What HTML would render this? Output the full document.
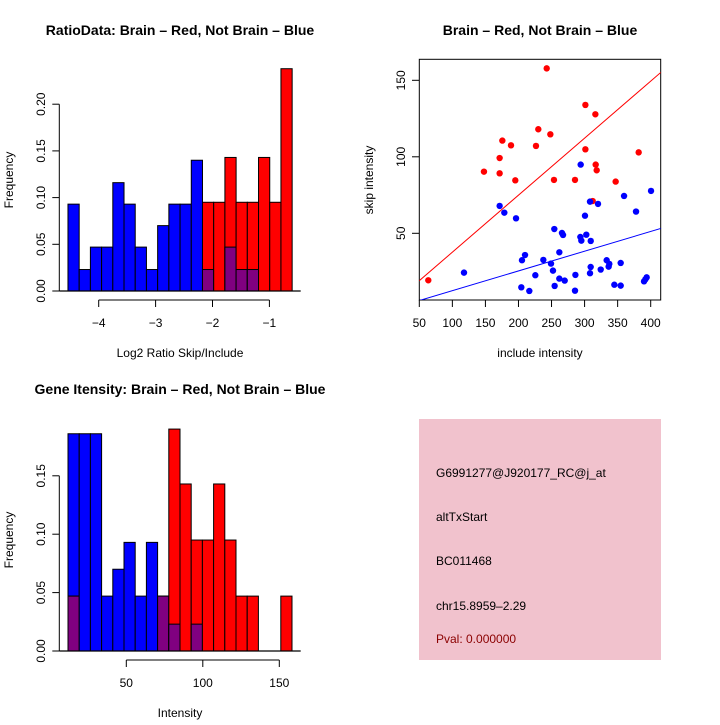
<!DOCTYPE html>
<html><head><meta charset="utf-8"><style>
body{margin:0;background:#fff}
svg text{font-family:"Liberation Sans",sans-serif}
</style></head><body>
<svg id="c" width="720" height="720" xmlns="http://www.w3.org/2000/svg">
<text x="180" y="35" font-size="14" font-weight="bold" text-anchor="middle">RatioData: Brain – Red, Not Brain – Blue</text>
<text x="540" y="35" font-size="14" font-weight="bold" text-anchor="middle">Brain – Red, Not Brain – Blue</text>
<text x="180" y="394" font-size="14" font-weight="bold" text-anchor="middle">Gene Itensity: Brain – Red, Not Brain – Blue</text>
<text x="180" y="357" font-size="12" text-anchor="middle">Log2 Ratio Skip/Include</text>
<text transform="translate(13,180) rotate(-90)" font-size="12" text-anchor="middle">Frequency</text>
<text x="540" y="357" font-size="12" text-anchor="middle">include intensity</text>
<text transform="translate(373,180) rotate(-90)" font-size="12" text-anchor="middle">skip intensity</text>
<text x="180" y="717" font-size="12" text-anchor="middle">Intensity</text>
<text transform="translate(13,540) rotate(-90)" font-size="12" text-anchor="middle">Frequency</text>
<g>
<rect x="419" y="419" width="242" height="241" fill="#f1c2cd"/>
<text x="436" y="477" font-size="12">G6991277@J920177_RC@j_at</text>
<text x="436" y="521" font-size="12">altTxStart</text>
<text x="436" y="565" font-size="12">BC011468</text>
<text x="436" y="610" font-size="12">chr15.8959–2.29</text>
<text x="436" y="643" font-size="12" fill="#8b0000">Pval: 0.000000</text>
</g>
</svg>
<script>
const ratioBlue=[0.093,0.023,0.047,0.047,0.116,0.093,0.047,0.023,0.070,0.093,0.093,0.140,0.023,0,0.047,0.023,0.023,0,0,0];
const ratioRed=[0,0,0,0,0,0,0,0,0,0,0,0,0.095,0.095,0.143,0.095,0.095,0.143,0.095,0.238];
const ratioTicksX=[-4,-3,-2,-1];
const ratioTicksY=[0,0.05,0.10,0.15,0.20];
const ratioTickLabelsY=["0.00","0.05","0.10","0.15","0.20"];
const intBlue=[0.186,0.186,0.186,0.047,0.070,0.093,0.047,0.093,0.047,0.023,0,0.023,0,0,0,0,0,0,0,0];
const intRed=[0.047,0,0,0,0,0,0,0,0.047,0.190,0.143,0.095,0.095,0.143,0.095,0.047,0.047,0,0,0.047];
const intTicksX=[50,100,150];
const intTicksY=[0,0.05,0.10,0.15];
const intTickLabelsY=["0.00","0.05","0.10","0.15"];
const redX=[63.6,242.7,301.2,316.3,230,248.2,175.6,188.7,226.5,301.2,381.8,171.5,147.8,171.5,316.8,318.3,195.2,253.7,285.5,347,312.2];
const redY=[19.3,157.8,133.9,127.8,118,114.7,110.6,107.5,107.1,104.9,102.9,99.2,90.3,89.2,94.9,91.2,84.6,84.9,84.9,83.8,71.1];
const blueX=[117.6,171.5,178.6,196.3,294.1,300.6,308.2,320.3,359.7,377.8,400.5,254.2,265.8,267.4,293.6,295.1,302.6,309.3,261.8,209.9,205.3,237.6,249.2,333.4,337.4,336.4,354.6,309.2,252.2,308.2,324.4,225.5,286.1,261.8,269.9,204.3,216.4,254.7,285.5,345,354.6,389.9,391.9,393.9];
const blueY=[24.3,67.9,63.5,59.8,94.9,61.5,70.7,69.2,74.4,64.2,77.7,52.8,50.2,48.9,47.6,45.2,49.1,45.0,37.6,35.8,32.4,32.6,30.2,32.4,30.0,28.2,30.6,28.0,25.6,23.9,26.3,22.6,22.8,20.4,19.1,14.7,12.3,15.6,12.5,16.4,15.8,18.6,19.9,21.2];
const scatterTicksX=[50,100,150,200,250,300,350,400];
const scatterTicksY=[50,100,150];
const redFit=[0.4,0.3726];
const blueFit=[-0.4,0.129];

const svg=document.getElementById('c');
const NS='http://www.w3.org/2000/svg';
function mk(tag,attrs,parent){const e=document.createElementNS(NS,tag);for(const k in attrs)e.setAttribute(k,attrs[k]);(parent||svg).appendChild(e);return e;}

function hist(blue,red,x0,bw,sy,yLeft,yTicks,yLabels,xTicks,sx,axisY,prefix){
  const g=mk('g',{});
  
  
  for(let i=0;i<blue.length;i++){
    const x=x0+i*bw;const b=blue[i],r=red[i],m=Math.min(b,r);
    if(b>0){const e=mk('rect',{x:x,y:sy(b),width:bw,height:sy(0)-sy(b),fill:'#0000ff',stroke:'#000','stroke-width':1},g);
      
      }
    if(r>0){const e=mk('rect',{x:x,y:sy(r),width:bw,height:sy(0)-sy(r),fill:'#ff0000',stroke:'#000','stroke-width':1},g);
      
      }
    if(m>0){const e=mk('rect',{x:x,y:sy(m),width:bw,height:sy(0)-sy(m),fill:'#800080',stroke:'#000','stroke-width':1},g);
      
      }
  }
  mk('line',{x1:59.3,x2:300.7,y1:sy(0),y2:sy(0),stroke:'#000','stroke-width':1.3},g);
  mk('line',{x1:yLeft,x2:yLeft,y1:sy(yTicks[0]),y2:sy(yTicks[yTicks.length-1]),stroke:'#000'},g);
  yTicks.forEach((t,i)=>{mk('line',{x1:yLeft-7,x2:yLeft,y1:sy(t),y2:sy(t),stroke:'#000'},g);
    const tx=mk('text',{transform:`translate(45,${sy(t)}) rotate(-90)`,'font-size':12,'text-anchor':'middle'},g);tx.textContent=yLabels[i];});
  mk('line',{x1:sx(xTicks[0]),x2:sx(xTicks[xTicks.length-1]),y1:axisY,y2:axisY,stroke:'#000'},g);
  xTicks.forEach(t=>{mk('line',{x1:sx(t),x2:sx(t),y1:axisY,y2:axisY+7,stroke:'#000'},g);
    const tx=mk('text',{x:sx(t),y:axisY+27,'font-size':12,'text-anchor':'middle'},g);tx.textContent=String(t).replace('-','\u2212');});
}
// ratio histogram
const rsx=v=>98.7+(v+4)*56.9;
const rsy=v=>291-v/0.05*46.7;
hist(ratioBlue,ratioRed,rsx(-4.54),(rsx(-0.6)-rsx(-4.54))/20,rsy,59.3,ratioTicksY,ratioTickLabelsY,ratioTicksX,rsx,300,'ratio');
// intensity histogram
const isx=v=>126.3+(v-50)*1.53;
const isy=v=>651-v/0.05*58.4;
hist(intBlue,intRed,68,11.2,isy,59.3,intTicksY,intTickLabelsY,intTicksX,isx,660,'intensity');

// scatter
const ssx=v=>419.3+(v-50)*(231.4/350);
const ssy=v=>233.3-(v-50)*1.53;
const sg=mk('g',{});


mk('rect',{x:419.3,y:59.3,width:241.4,height:240.7,fill:'none',stroke:'#000'},sg);
const clip=mk('clipPath',{id:'sc'},sg);mk('rect',{x:419.3,y:59.3,width:241.4,height:240.7},clip);
[[redFit,'#ff0000','red-fit-line'],[blueFit,'#0000ff','blue-fit-line']].forEach(([f,c,n])=>{
  const l=mk('line',{x1:ssx(40),x2:ssx(420),y1:ssy(f[0]+f[1]*40),y2:ssy(f[0]+f[1]*420),stroke:c,'clip-path':'url(#sc)'},sg);
  
  
});
redX.forEach((x,i)=>{const c=mk('circle',{cx:ssx(x),cy:ssy(redY[i]),r:3.2,fill:'#ff0000'},sg);
  
  });
blueX.forEach((x,i)=>{const c=mk('circle',{cx:ssx(x),cy:ssy(blueY[i]),r:3.2,fill:'#0000ff'},sg);
  
  });
scatterTicksX.forEach(t=>{mk('line',{x1:ssx(t),x2:ssx(t),y1:300,y2:307,stroke:'#000'},sg);
  const tx=mk('text',{x:ssx(t),y:327,'font-size':12,'text-anchor':'middle'},sg);tx.textContent=t;});
scatterTicksY.forEach(t=>{mk('line',{x1:412,x2:419.3,y1:ssy(t),y2:ssy(t),stroke:'#000'},sg);
  const tx=mk('text',{transform:`translate(405,${ssy(t)}) rotate(-90)`,'font-size':12,'text-anchor':'middle'},sg);tx.textContent=t;});
</script>
</body></html>
